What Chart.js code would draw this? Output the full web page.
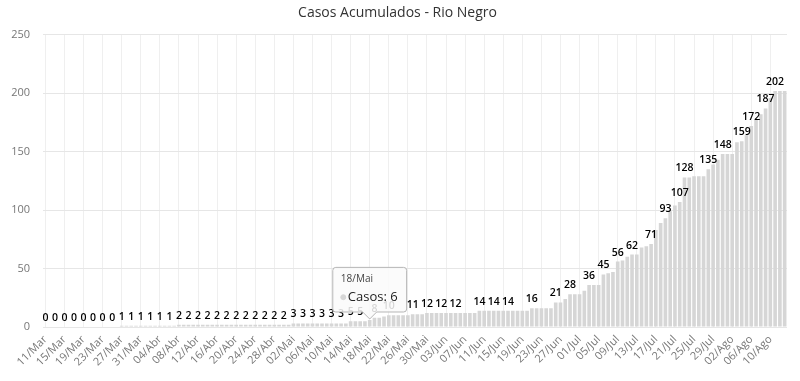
<!DOCTYPE html>
<html>
<head>
<meta charset="utf-8">
<script src="https://cdn.jsdelivr.net/npm/chart.js@4/dist/chart.umd.min.js"></script>
<style>
    html, body { margin: 0; padding: 0; background: #fff; }
    #box { width: 800px; height: 381px; }
</style>
</head>
<body>
<div id="box"><canvas id="chart"></canvas></div>
<script>
// =============================================================
// DATA
// =============================================================
const titulo = "Casos Acumulados - Rio Negro";

// [mes, primeiro dia, ultimo dia]
const meses = [["Mar", 11, 31], ["Abr", 1, 30], ["Mai", 1, 31], ["Jun", 1, 30], ["Jul", 1, 31], ["Ago", 1, 13]];

// casos acumulados por mes (um valor por dia)
const casosMar = [0, 0, 0, 0, 0, 0, 0, 0, 0, 0, 0, 0, 0, 0, 0, 0, 1, 1, 1, 1, 1];
const casosAbr = [1, 1, 1, 1, 1, 1, 1, 2, 2, 2, 2, 2, 2, 2, 2, 2, 2, 2, 2, 2, 2, 2, 2, 2, 2, 2, 2, 2, 2, 2];
const casosMai = [2, 3, 3, 3, 3, 3, 3, 3, 3, 3, 3, 3, 3, 5, 5, 5, 5, 6, 8, 8, 9, 10, 10, 10, 10, 10, 11, 11, 11, 12, 12];
const casosJun = [12, 12, 12, 12, 12, 12, 12, 12, 12, 14, 14, 14, 14, 14, 14, 14, 14, 14, 14, 14, 16, 16, 16, 16, 16, 21, 21, 24, 28, 28];
const casosJul = [28, 31, 36, 36, 36, 45, 46, 47, 56, 57, 60, 62, 62, 68, 69, 71, 83, 89, 93, 99, 104, 107, 128, 128, 129, 129, 129, 135, 139, 143, 148];
const casosAgo = [148, 148, 158, 159, 164, 172, 178, 182, 187, 196, 202, 202, 202];

const yTicks = [0, 50, 100, 150, 200, 250];
const tooltipDia = "18/Mai";

const datas = [];
meses.forEach(([m, d0, d1]) => {
    for (let d = d0; d <= d1; d++) datas.push(String(d).padStart(2, "0") + "/" + m);
});
const casos = [].concat(casosMar, casosAbr, casosMai, casosJun, casosJul, casosAgo);

const FONT = '"Open Sans", "Noto Sans", sans-serif';


// =============================================================
// DATA LABELS (hide the ones that overlap, taller bars first)
// =============================================================
const barLabels = {
    id: "barLabels",
    afterDatasetsDraw(chart) {
        const ctx  = chart.ctx;
        const meta = chart.getDatasetMeta(0);

        ctx.save();
        ctx.font = "600 10.5px " + FONT;

        const order = casos.map((v, i) => i).sort((a, b) => casos[b] - casos[a] || a - b);
        const kept  = [];

        order.forEach(i => {
            const bar = meta.data[i];
            const txt = String(casos[i]);
            const w   = ctx.measureText(txt).width;
            const box = { l: bar.x - w / 2, r: bar.x + w / 2, t: bar.y - 17, b: bar.y - 4, x: bar.x, y: bar.y, txt };

            if (kept.some(k => box.l < k.r && box.r > k.l && box.t < k.b && box.b > k.t)) return;
            kept.push(box);
        });

        ctx.fillStyle    = "#000";
        ctx.textAlign    = "center";
        ctx.textBaseline = "alphabetic";
        kept.forEach(k => ctx.fillText(k.txt, k.x, k.y - 6));
        ctx.restore();
    }
};


// =============================================================
// CHART
// =============================================================
const chart = new Chart(document.getElementById("chart"), {
    type: "bar",
    data: {
        labels: datas,
        datasets: [{
            label: "Casos",
            data: casos,
            backgroundColor: "#d6d6d6",
            hoverBackgroundColor: "#d6d6d6",
            borderWidth: 0,
            categoryPercentage: 0.95,
            barPercentage: 0.8
        }]
    },
    options: {
        responsive: true,
        maintainAspectRatio: false,
        animation: false,
        layout: { padding: { left: 0, right: 5, top: 0, bottom: 0 } },
        plugins: {
            legend: { display: false },
            title: {
                display: true,
                text: titulo,
                color: "#333",
                font: { family: FONT, size: 14, weight: "normal" },
                padding: { top: 5, bottom: 13 }
            },
            tooltip: {
                enabled: true,
                yAlign: "bottom",
                xAlign: "center",
                backgroundColor: "rgba(250,250,250,0.85)",
                borderColor: "#b5b5b5",
                borderWidth: 1,
                cornerRadius: 3,
                caretSize: 7,
                caretPadding: 1,
                padding: { top: 6, bottom: 7, left: 8, right: 9 },
                titleColor: "#444",
                titleFont: { family: FONT, size: 10, weight: "normal" },
                titleMarginBottom: 4,
                bodyColor: "#222",
                bodyFont: { family: FONT, size: 13 },
                displayColors: true,
                usePointStyle: true,
                boxWidth: 5,
                boxHeight: 5,
                callbacks: {
                    labelColor: () => ({ borderColor: "#d6d6d6", backgroundColor: "#d6d6d6" }),
                    labelPointStyle: () => ({ pointStyle: "circle", rotation: 0 })
                }
            }
        },
        scales: {
            x: {
                offset: true,
                border: { display: false },
                grid: {
                    offset: false,
                    drawTicks: false,
                    color: c => (c.index % 4 === 0 ? "#efefef" : "rgba(0,0,0,0)")
                },
                ticks: {
                    autoSkip: false,
                    minRotation: 45,
                    maxRotation: 45,
                    padding: 6,
                    color: "#777",
                    font: { family: FONT, size: 11 },
                    callback: (v, i) => (i % 4 === 0 ? datas[i] : "")
                },
                afterFit: s => { s.height = 54; }
            },
            y: {
                min: 0,
                max: 250,
                border: { display: false },
                grid: { color: "#e6e6e6", drawTicks: false },
                afterBuildTicks: s => { s.ticks = yTicks.map(v => ({ value: v })); },
                ticks: {
                    padding: 13,
                    color: "#777",
                    font: { family: FONT, size: 11 }
                },
                afterFit: s => { s.width = 43; }
            }
        }
    },
    plugins: [barLabels]
});


// =============================================================
// TOOLTIP ON 18/Mai
// =============================================================
const idx = datas.indexOf(tooltipDia);
const el  = chart.getDatasetMeta(0).data[idx];
chart.tooltip.setActiveElements([{ datasetIndex: 0, index: idx }], { x: el.x, y: el.y });
chart.update();
</script>
</body>
</html>
